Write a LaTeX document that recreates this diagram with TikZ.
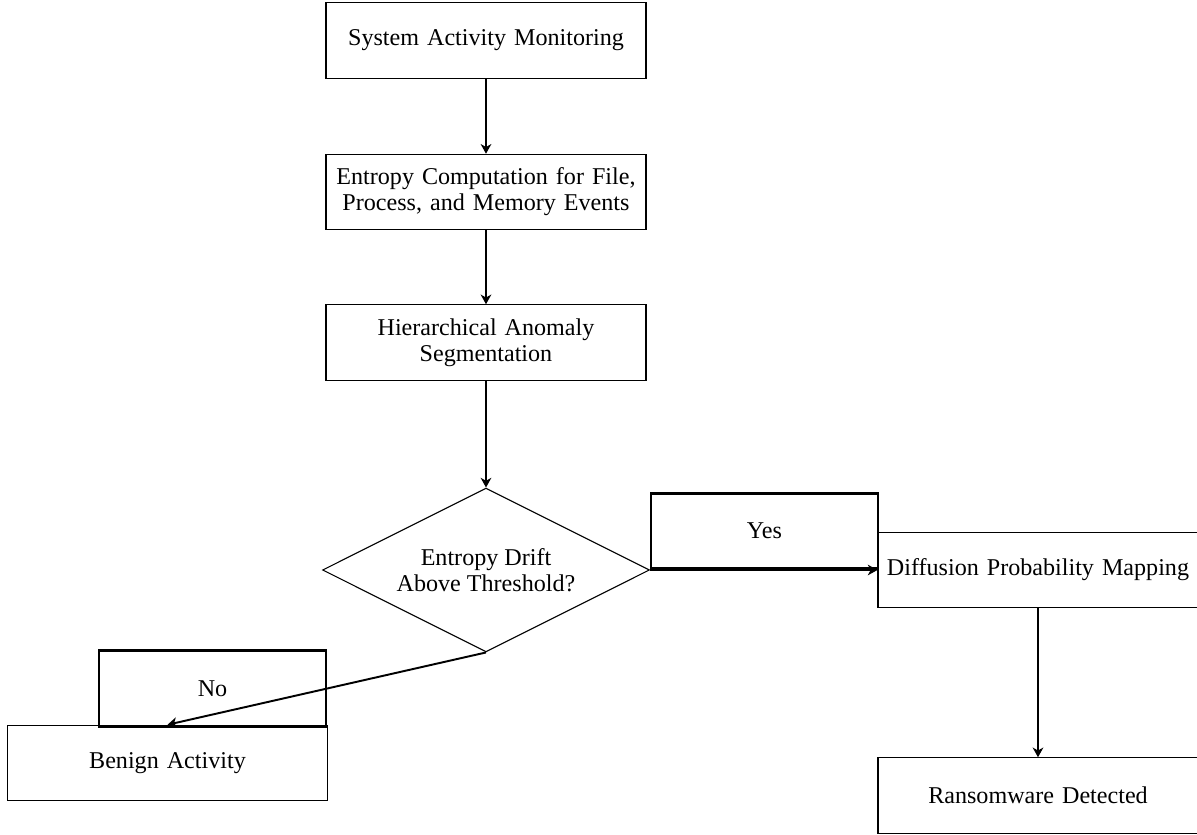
\documentclass[tikz,border=0pt]{standalone}
\usepackage{fontspec}
\setmainfont{Liberation Serif}
\usetikzlibrary{shapes.geometric,arrows.meta}
\begin{document}
\begin{tikzpicture}[x=0.415pt,y=-0.415pt,
  every node/.style={font=\fontsize{10}{10.8}\selectfont},
  procbox/.style={draw,line width=0.45pt,rectangle,align=center,text width=126pt,
    minimum width=132.8pt,minimum height=31.3pt,inner sep=0pt},
  decbox/.style={draw,line width=0.45pt,diamond,align=center,shape aspect=2,
    minimum width=135.7pt,minimum height=68pt,inner sep=0pt},
  lblbox/.style={draw,line width=1.2pt,rectangle,minimum width=94.2pt,minimum height=31.3pt,inner sep=0pt},
  flow/.style={line width=0.8pt,-{Stealth[length=4pt,width=4.4pt,inset=1.2pt]}}]
\useasboundingbox (0,0) rectangle (1197,835);
\node[procbox] (sam) at (486,40.5) {System Activity Monitoring};
\node[procbox] (ecp) at (486,192) {Entropy Computation for File,\\ Process, and Memory Events};
\node[procbox] (has) at (486,342.5) {Hierarchical Anomaly\\ Segmentation};
\node[decbox] (dia) at (486,570) {Entropy Drift\\ Above Threshold?};
\node[procbox] (dpm) at (1038,570) {Diffusion Probability Mapping};
\node[procbox] (rd) at (1038,795.5) {Ransomware Detected};
\node[procbox] (ba) at (167.5,763) {Benign Activity};
\node[lblbox] (yeslbl) at (764.5,531) {Yes};
\node[lblbox] (nolbl) at (212.5,688.5) {No};
\draw[flow] (sam.south) -- (ecp.north);
\draw[flow] (ecp.south) -- (has.north);
\draw[flow] (has.south) -- (dia.north);
\draw[flow,line width=1.2pt] (dia.east) -- (dpm.west);
\draw[flow] (dia.south) -- (ba.north);
\draw[flow] (dpm.south) -- (rd.north);
\end{tikzpicture}
\end{document}
